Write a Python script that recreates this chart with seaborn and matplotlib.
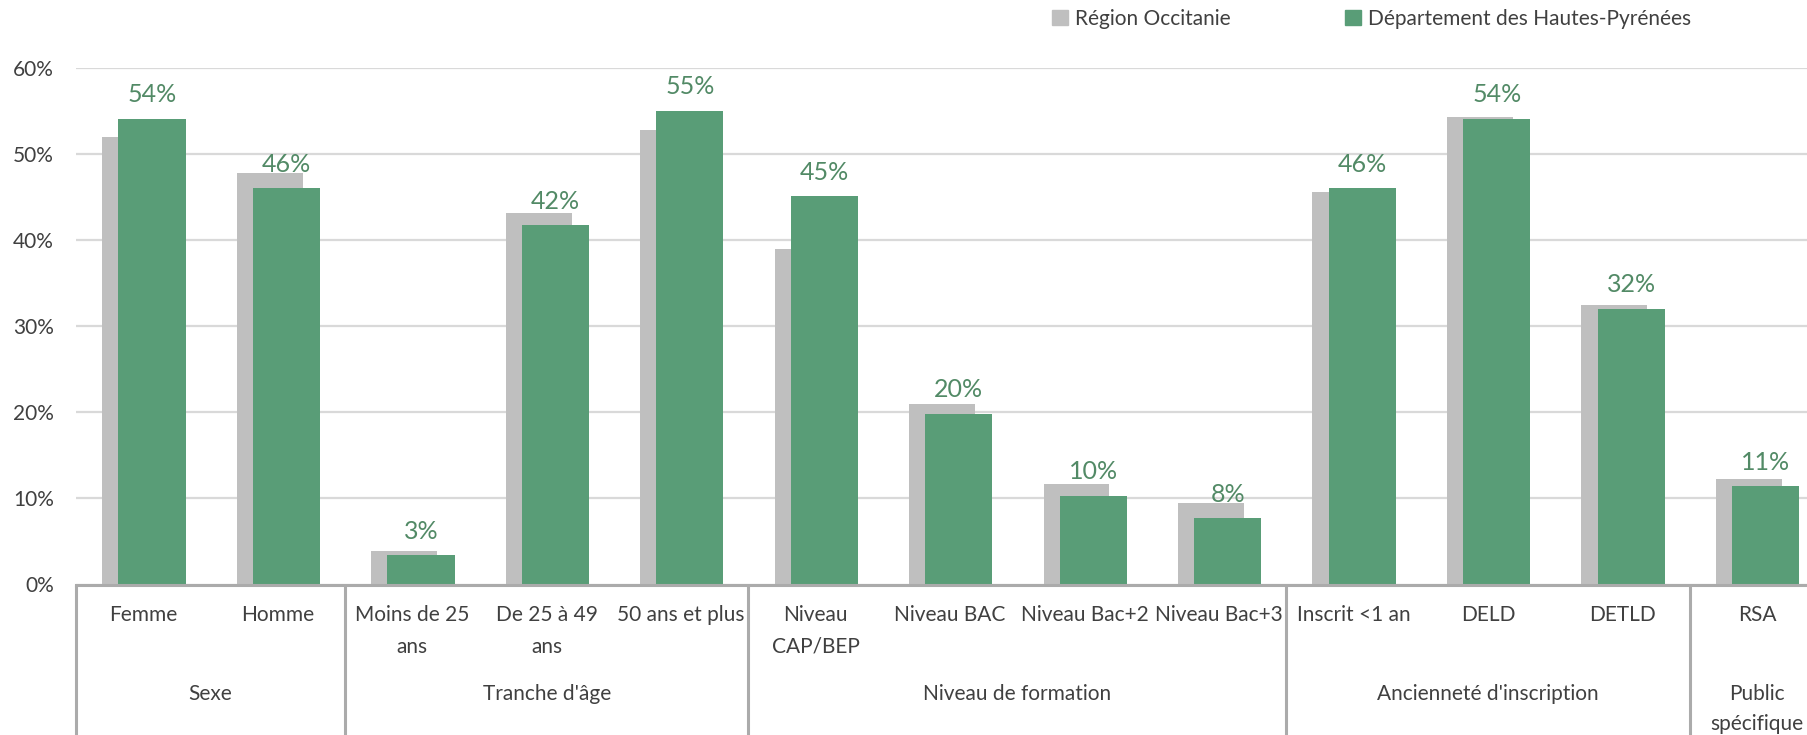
import matplotlib
matplotlib.use("Agg")
import matplotlib.pyplot as plt
import matplotlib.patches as mpatches
import seaborn as sns

# values (%)
categories = ["Femme", "Homme", "Moins de 25\nans", "De 25 à 49\nans", "50 ans et plus",
              "Niveau\nCAP/BEP", "Niveau BAC", "Niveau Bac+2", "Niveau Bac+3",
              "Inscrit <1 an", "DELD", "DETLD", "RSA"]
region = [52.0, 47.8, 3.9, 43.1, 52.8, 38.9, 21.0, 11.7, 9.5, 45.6, 54.3, 32.4, 12.3]
departement = [54.1, 46.0, 3.4, 41.7, 55.0, 45.1, 19.8, 10.3, 7.7, 46.0, 54.1, 32.0, 11.4]
groups = ["Sexe", "Tranche d'âge", "Niveau de formation", "Ancienneté d'inscription", "Public\nspécifique"]
group_sizes = [2, 3, 4, 3, 1]
series_names = ["Région Occitanie", "Département des Hautes-Pyrénées"]

GREY = "#BFBFBF"
GREEN = "#599D77"
LABEL_GREEN = "#528A66"
TEXT = "#404040"
LINE = "#ABABAB"

sns.set_style("white")
plt.rcParams["font.family"] = ["Lato", "DejaVu Sans"]

W, H = 1808, 735
fig = plt.figure(figsize=(W / 100, H / 100), dpi=100)
ax_left, ax_bottom, ax_top = 76, 584.5, 67.7
ax = fig.add_axes([ax_left / W, 1 - ax_bottom / H, 1 - ax_left / W, (ax_bottom - ax_top) / H])

idx = list(range(len(categories)))
x_grey = [i - 0.06 for i in idx]
x_green = [i + 0.065 for i in idx]

sns.barplot(x=x_grey, y=region, native_scale=True, width=0.49, color=GREY,
            saturation=1, errorbar=None, linewidth=0, ax=ax)
sns.barplot(x=x_green, y=departement, native_scale=True, width=0.5, color=GREEN,
            saturation=1, errorbar=None, linewidth=0, ax=ax)

ax.bar_label(ax.containers[-1], labels=[f"{v:.0f}%" for v in departement],
             padding=9, color=LABEL_GREEN, fontsize=18)

ax.set_ylim(0, 60)
ax.set_yticks(range(0, 61, 10))
ax.set_yticklabels([f"{v}%" for v in range(0, 61, 10)])
ax.set_xlim(-0.5, 12.38)
ax.set_xticks(idx)
ax.set_xticklabels(categories, linespacing=1.7)
ax.tick_params(axis="x", length=0, pad=15, labelsize=15, labelcolor=TEXT)
ax.tick_params(axis="y", length=0, pad=16, labelsize=15, labelcolor=TEXT)
ax.yaxis.grid(True, color="#D9D9D9", lw=1.6)
ax.set_axisbelow(True)
for s in ["left", "right", "top"]:
    ax.spines[s].set_visible(False)
ax.spines["bottom"].set_color(LINE)
ax.spines["bottom"].set_linewidth(2.2)
ax.set_xlabel("")
ax.set_ylabel("")

# group separators and group labels
bottom_frac = -(H - ax_bottom) / (ax_bottom - ax_top)
start = -0.5
trans = ax.get_xaxis_transform()
ax.vlines(start, bottom_frac, 0, transform=trans, color=LINE, lw=2.2, clip_on=False)
for name, n in zip(groups, group_sizes):
    end = start + n
    ax.vlines(end, bottom_frac, 0, transform=trans, color=LINE, lw=2.2, clip_on=False)
    ax.text((start + end) / 2, -(684 - ax_bottom) / (ax_bottom - ax_top), name,
            transform=trans, ha="center", va="top", fontsize=15, color=TEXT,
            linespacing=1.65)
    start = end

handles = [mpatches.Patch(color=GREY), mpatches.Patch(color=GREEN)]
fig.legend(handles, series_names, loc="center left", bbox_to_anchor=(1052 / W, 1 - 19 / H),
           ncol=2, frameon=False, fontsize=15, handlelength=0.75, handleheight=0.75,
           handletextpad=0.35, columnspacing=5.5, borderpad=0, borderaxespad=0,
           labelcolor=TEXT)

fig.savefig("out.png", dpi=100)
